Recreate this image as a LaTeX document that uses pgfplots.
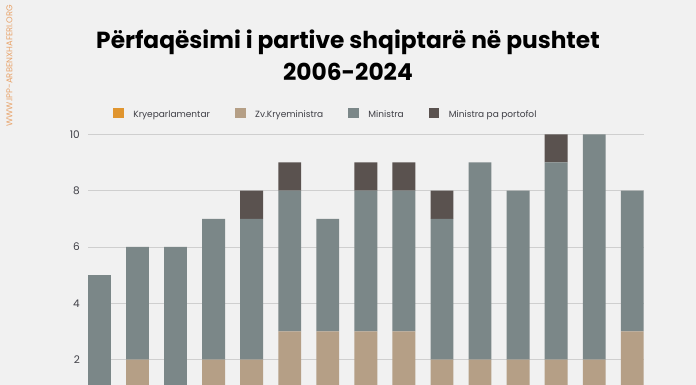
\documentclass[border=0pt]{standalone}
\usepackage{pgfplots}
\pgfplotsset{compat=1.18}
\usepackage{fontspec}
\setmainfont{Poppins}
\definecolor{bg}{HTML}{F1F1F1}
\definecolor{cKP}{HTML}{E0952F}
\definecolor{cZV}{HTML}{B59F86}
\definecolor{cMin}{HTML}{7B8788}
\definecolor{cPP}{HTML}{5A524F}
\definecolor{gridc}{HTML}{CFCFCF}
\definecolor{tickc}{HTML}{3F3F46}
\definecolor{wm}{HTML}{E8A36A}
\begin{document}
\begin{tikzpicture}[x=1pt,y=1pt]
\useasboundingbox (0,0) rectangle (696,385);
\fill[bg] (0,0) rectangle (696,385);
\node[font=\bfseries\fontsize{23.3}{26}\selectfont, anchor=base] at (348,336.5) {Përfaqësimi i partive shqiptarë në pushtet};
\node[font=\bfseries\fontsize{23.3}{26}\selectfont, anchor=base] at (348,304.5) {2006-2024};
\node[rotate=90, anchor=east, text=wm, font=\fontsize{8.4}{9}\selectfont, inner sep=0pt] at (9.5,380) {WWW.IPP-ARBENXHAFERI.ORG};
\begin{axis}[
  at={(88pt,0pt)}, anchor=south west,
  width=555.7pt, height=250.7pt, scale only axis,
  ybar stacked, bar width=0.6,
  xmin=-0.3, xmax=14.3, ymin=1.1, ymax=10,
  xtick=\empty, ytick={2,4,6,8,10},
  axis line style={draw=none},
  major tick length=0pt,
  ymajorgrids, grid style={gridc, line width=0.9pt},
  yticklabel style={font=\fontsize{10.5}{12}\selectfont, text=tickc, inner sep=0pt, xshift=-8pt},
  /pgf/number format/assume math mode=true,
  legend columns=4,
  legend style={at={(0.428,1.045)}, anchor=south, draw=none, fill=none,
    font=\fontsize{9}{11}\selectfont, text=tickc,
    /tikz/every even column/.append style={column sep=23pt},
    /tikz/every odd column/.append style={column sep=7.5pt}},
  legend image code/.code={\fill[#1] (0pt,-3.8pt) rectangle (10.7pt,6.8pt);},
  every axis plot/.append style={draw=none},
]
\addplot[fill=cKP] coordinates {(0,0) (1,0) (2,0) (3,0) (4,0) (5,0) (6,0) (7,0) (8,0) (9,0) (10,0) (11,0) (12,0) (13,0) (14,0)};
\addlegendentry{Kryeparlamentar}
\addplot[fill=cZV] coordinates {(0,0) (1,2) (2,0) (3,2) (4,2) (5,3) (6,3) (7,3) (8,3) (9,2) (10,2) (11,2) (12,2) (13,2) (14,3)};
\addlegendentry{Zv.Kryeministra}
\addplot[fill=cMin] coordinates {(0,5) (1,4) (2,6) (3,5) (4,5) (5,5) (6,4) (7,5) (8,5) (9,5) (10,7) (11,6) (12,7) (13,8) (14,5)};
\addlegendentry{Ministra}
\addplot[fill=cPP] coordinates {(0,0) (1,0) (2,0) (3,0) (4,1) (5,1) (6,0) (7,1) (8,1) (9,1) (10,0) (11,0) (12,1) (13,0) (14,0)};
\addlegendentry{Ministra pa portofol}
\end{axis}
\end{tikzpicture}
\end{document}
